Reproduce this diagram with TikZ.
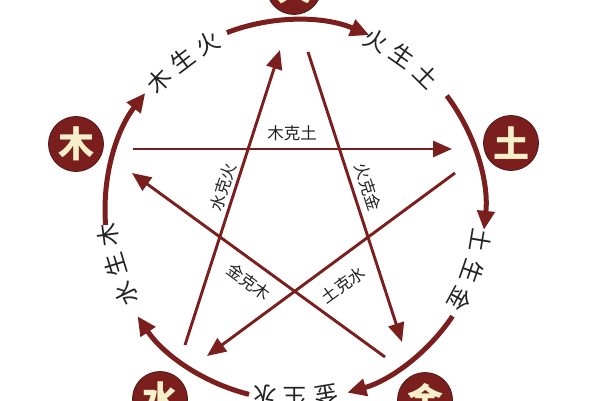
\documentclass[tikz,border=0pt]{standalone}
\usepackage{fontspec}
\newfontfamily\cjk{Noto Sans CJK SC}
\usetikzlibrary{arrows.meta}
\definecolor{wxred}{HTML}{7A1E1E}
\definecolor{wxcream}{HTML}{F6EFCC}
\definecolor{wxtext}{HTML}{222222}
\tikzset{
  elem/.style={circle,fill=wxred,draw=wxred!70!black,line width=0.8pt,minimum size=55pt,inner sep=0pt,
    text=wxcream,font=\cjk\bfseries\fontsize{36}{36}\selectfont},
  ring/.style={draw=wxred,line width=5pt,-{Triangle[length=19pt,width=17pt]}},
  ke/.style={draw=wxred,line width=2.9pt,-{Triangle[length=19pt,width=16pt]}},
  outerlbl/.style={text=wxtext,font=\cjk\fontsize{23.5}{23.5}\selectfont,inner sep=0pt},
  innerlbl/.style={text=wxtext,font=\cjk\fontsize{16.5}{16.5}\selectfont,inner sep=1pt},
}
\begin{document}
\begin{tikzpicture}[x=1pt,y=1pt]
\useasboundingbox (0,0) rectangle (600,400);
\clip (0,0) rectangle (600,400);
\fill[white] (0,0) rectangle (600,400);
\coordinate (O) at (295,190);

% element circles
\node[elem] (huo) at (294,413) {火};
\node[elem] (mu)  at (76,256)  {木};
\node[elem] (tu)  at (511,257) {土};
\node[elem] (shui) at (160,1)  {水};
\node[elem] (jin) at (425,0)   {金};

% generating cycle arcs
\draw[ring] ([shift={(111:190)}]O) arc[start angle=111,end angle=67,radius=190pt];
\draw[ring] ([shift={(37:190)}]O) arc[start angle=37,end angle=-6,radius=190pt];
\draw[ring] ([shift={(-34:190)}]O) arc[start angle=-34,end angle=-74,radius=190pt];
\draw[ring] ([shift={(-104:190)}]O) arc[start angle=-104,end angle=-146,radius=190pt];
\draw[ring] ([shift={(-175.5:190)}]O) arc[start angle=-175.5,end angle=-218,radius=190pt];

% generating cycle labels
\foreach \ang/\txt/\nm in {136.5/木/a1,127/生/a2,117.5/火/a3,
  64.5/火/b1,55/生/b2,45.5/土/b3,
  -9.5/土/c1,-19/生/c2,-28.5/金/c3,
  -80.5/金/d1,-90/生/d2,-99.5/水/d3,
  -153.5/水/e1,-163/生/e2,-172.5/木/e3}
  \node[outerlbl,rotate=\ang-90] (\nm) at ([shift={(\ang:188)}]O) {\txt};

% controlling star
\coordinate (mk1) at (133,251); \coordinate (mk2) at (452,251);
\coordinate (sk1) at (185,55);  \coordinate (sk2) at (280,350);
\coordinate (hk1) at (308,348); \coordinate (hk2) at (402,58);
\coordinate (jk1) at (385,43);  \coordinate (jk2) at (132,227);
\coordinate (tk1) at (455,227); \coordinate (tk2) at (207,44);
\draw[ke] (mk1) -- (mk2);
\draw[ke] (sk1) -- (sk2);
\draw[ke] (hk1) -- (hk2);
\draw[ke] (jk1) -- (jk2);
\draw[ke] (tk1) -- (tk2);

\node[innerlbl] (lmk) at (292,267) {木克土};
\node[innerlbl,rotate=72] (lsk) at (223,213) {水克火};
\node[innerlbl,rotate=-72] (lhk) at (368,213) {火克金};
\node[innerlbl,rotate=-36] (ljk) at (249,118) {金克木};
\node[innerlbl,rotate=36] (ltk) at (343,115) {土克水};
\end{tikzpicture}
\end{document}
